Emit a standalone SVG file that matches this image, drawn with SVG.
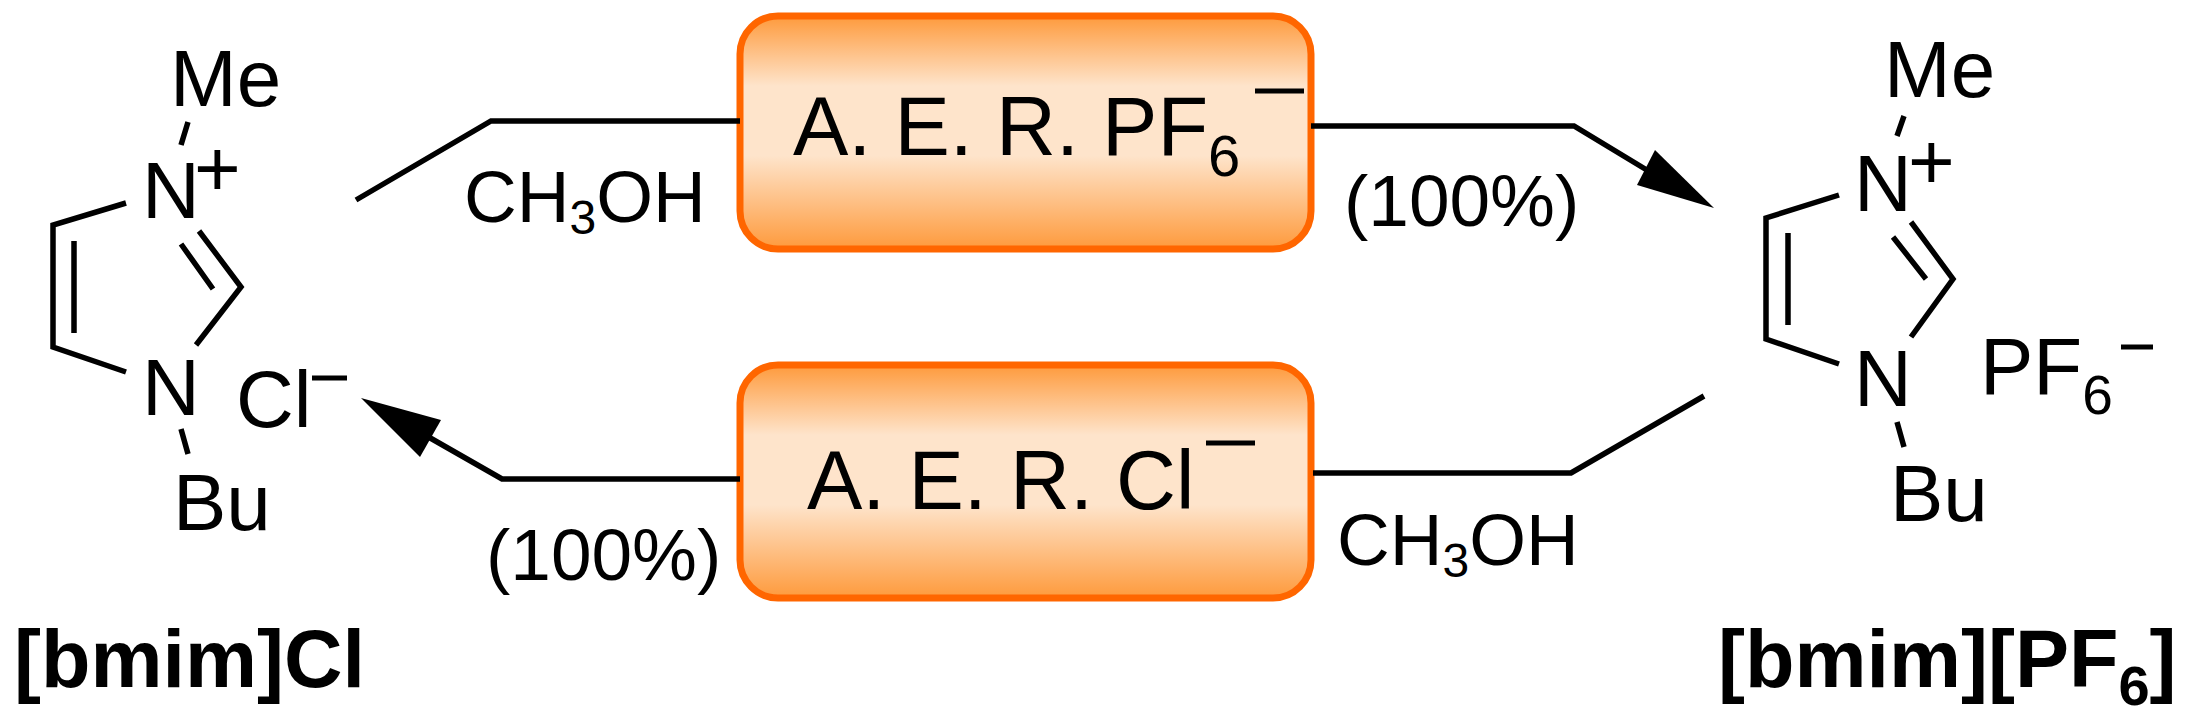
<svg xmlns="http://www.w3.org/2000/svg" width="2190" height="716" viewBox="0 0 2190 716">
<style>
text{font-family:"Liberation Sans",Arial,sans-serif;fill:#000}
.a{font-size:80px}.l{font-size:73px}.b{font-size:83px}.t{font-size:81px;font-weight:bold}
.bond,.conn{stroke:#000;stroke-width:5.5;fill:none;stroke-linejoin:miter}
.box{fill:url(#g);stroke:#ff6600;stroke-width:7}
</style>
<defs>
<linearGradient id="g" x1="0" y1="0" x2="0" y2="1">
<stop offset="0" stop-color="#fe9a3c"/><stop offset="0.3" stop-color="#fee4cb"/><stop offset="0.6" stop-color="#fee4cb"/><stop offset="1" stop-color="#fe9a3c"/>
</linearGradient>
</defs>
<rect width="2190" height="716" fill="#fff"/>
<g id="bmimCl">
<text class="a" x="170" y="106">Me</text>
<text class="a" x="142" y="218">N</text>
<text class="a" x="194" y="196">+</text>
<text class="a" x="142" y="415">N</text>
<text class="a" x="173" y="530">Bu</text>
<text class="a" x="236" y="427">Cl</text>
<line x1="312" y1="378" x2="347" y2="378" stroke="#000" stroke-width="5"/>
<path class="bond" d="M188,122L181,145M126,203L53,225L53,347L126,372M74,241L74,333M199,231L241,287L196,345M181,244L213,289M181,429L188,454"/>
<text class="t" x="14" y="687">[bmim]Cl</text>
</g>
<g id="bmimPF6">
<text class="a" x="1884" y="97">Me</text>
<text class="a" x="1854" y="211">N</text>
<text class="a" x="1908" y="189">+</text>
<text class="a" x="1854" y="406">N</text>
<text class="a" x="1890" y="521">Bu</text>
<text class="a" x="1980" y="394">PF<tspan font-size="55" dy="20">6</tspan></text>
<line x1="2121" y1="347" x2="2153" y2="347" stroke="#000" stroke-width="5"/>
<path class="bond" d="M1904,116L1897,136M1839,195L1766,218L1766,339L1839,364M1788,233L1788,325M1911,222L1953,279L1911,337M1893,237L1926,279M1897,422L1904,447"/>
<text class="t" x="1718" y="687">[bmim][PF<tspan font-size="56" dy="18">6</tspan><tspan dy="-18">]</tspan></text>
</g>
<g id="box1">
<rect class="box" x="740" y="16" width="571" height="233" rx="38"/>
<text class="b" x="793" y="155">A. E. R. PF<tspan font-size="58" dy="21">6</tspan></text>
<line x1="1255" y1="91" x2="1304" y2="91" stroke="#000" stroke-width="5"/>
</g>
<g id="box2">
<rect class="box" x="740" y="365" width="571" height="233" rx="38"/>
<text class="b" x="807" y="509">A. E. R. Cl</text>
<line x1="1206" y1="443" x2="1255" y2="443" stroke="#000" stroke-width="5"/>
</g>
<g id="connectors">
<path class="conn" d="M356,200L491,121L740,121"/>
<text class="l" x="464" y="222">CH<tspan font-size="48" dy="12">3</tspan><tspan dy="-12">OH</tspan></text>
<path class="conn" d="M1311,126L1574,126L1660,178"/>
<polygon points="1714,208 1637,185 1655,150" fill="#000"/>
<text class="l" x="1344" y="226">(100%)</text>
<path class="conn" d="M1704,396L1571,473L1313,473"/>
<text class="l" x="1337" y="565">CH<tspan font-size="48" dy="12">3</tspan><tspan dy="-12">OH</tspan></text>
<path class="conn" d="M740,479L502,479L425,435"/>
<polygon points="361,398 441,420 420,457" fill="#000"/>
<text class="l" x="486" y="580">(100%)</text>
</g>
</svg>
